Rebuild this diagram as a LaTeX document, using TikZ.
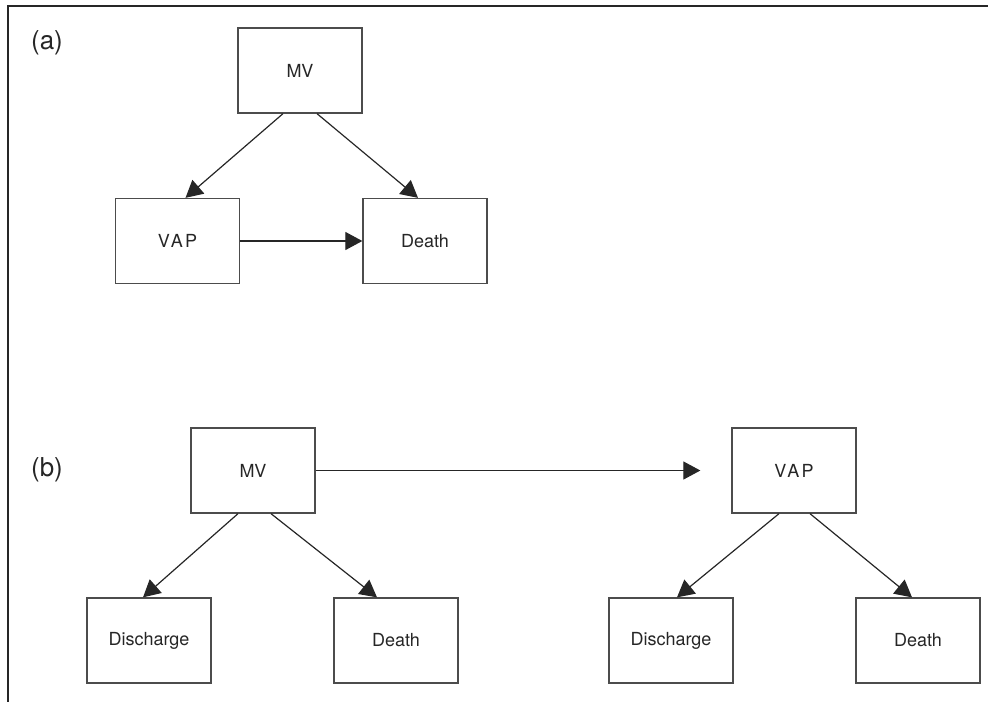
\documentclass[tikz,border=0pt]{standalone}
\usepackage{fontspec}
\setmainfont{TeX Gyre Heros}
\usetikzlibrary{arrows.meta}
\begin{document}
\begin{tikzpicture}[x=1pt, y=-1pt, >={Triangle[length=17pt,width=18pt]},
  box/.style={draw=black!70, line width=1.3pt, minimum width=124pt, minimum height=85pt, inner sep=0pt, font=\fontsize{18}{21}\selectfont, text=black!85},
  tag/.style={font=\fontsize{26}{30}\selectfont, text=black!85},
  link/.style={->, draw=black!85, line width=1.2pt}]
\useasboundingbox (0,0) rectangle (988,702);
\draw[line width=2pt, black!85] (988,6) -- (8,6) -- (8,702);

% panel (a)
\node[tag] (a) at (47,43) {(a)};
\node[box] (MVa) at (300,70.5) {MV};
\node[box] (VAPa) at (177.5,241) {\addfontfeature{LetterSpace=12}VAP};
\node[box] (DEa) at (425,241) {Death};

\draw[link] ([xshift=-17pt]MVa.south) -- ([xshift=8pt]VAPa.north);
\draw[link] ([xshift=17pt]MVa.south) -- ([xshift=-7pt]DEa.north);
\draw[link] (VAPa) -- (DEa);

% panel (b)
\node[tag] (b) at (47,470) {(b)};
\node[box] (MVb) at (253,470.5) {MV};
\node[box] (VAPb) at (794,470.5) {\addfontfeature{LetterSpace=12}VAP};
\node[box] (DISb) at (149,640.5) {Discharge};
\node[box] (DEb) at (396,640.5) {Death};
\node[box] (DISc) at (671,640.5) {Discharge};
\node[box] (DEc) at (918,640.5) {Death};

\draw[link, shorten >=31pt] (MVb) -- (VAPb);
\draw[link] ([xshift=-15pt]MVb.south) -- ([xshift=-6pt]DISb.north);
\draw[link] ([xshift=18pt]MVb.south) -- ([xshift=-19pt]DEb.north);
\draw[link] ([xshift=-15pt]VAPb.south) -- ([xshift=6pt]DISc.north);
\draw[link] ([xshift=16pt]VAPb.south) -- ([xshift=-6pt]DEc.north);
\end{tikzpicture}
\end{document}
